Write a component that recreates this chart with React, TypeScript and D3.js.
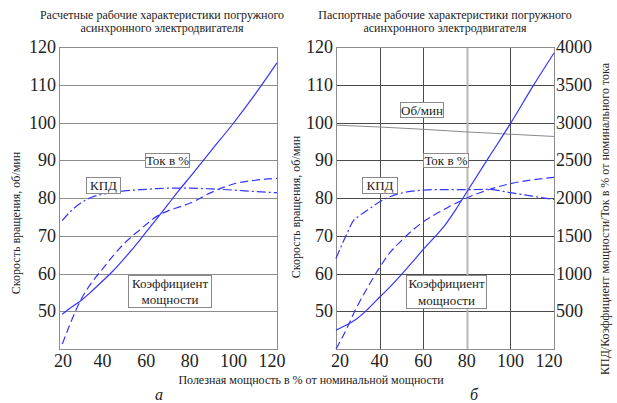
import React from "react";
import * as d3 from "d3";

// --- chart a (calculated) ---
const loadA = [21.5, 25, 30, 35, 40, 45, 50, 55, 60, 65, 70, 75, 80, 90, 100, 110, 120];
const currentA = [49.2, 50.8, 52.8, 55.3, 58, 60.8, 64, 67.4, 71, 74.6, 78.3, 82, 85.5, 92.7, 99.8, 107.5, 115.8];
const powerFactorA = [41.3, 46.5, 53, 57.6, 61.2, 64.8, 68, 70.6, 73, 75.2, 76.6, 77.6, 78.6, 81.5, 83.7, 84.7, 85.2];
const efficiencyA = [74, 76.3, 78.7, 80.2, 81, 81.5, 81.9, 82.1, 82.3, 82.5, 82.6, 82.6, 82.6, 82.4, 82.1, 81.7, 81.4];

// --- chart б (passport) ---
const loadB = [20, 25, 28, 30, 35, 40, 45, 50, 55, 60, 65, 70, 75, 80, 90, 100, 110, 120];
const currentB = [45, 46.4, 47.4, 48.2, 50.8, 53.7, 56.6, 59.7, 63, 66.4, 69.5, 72.8, 77, 81.6, 90.7, 99.7, 109.3, 118.4];
const powerFactorB = [40, 45.5, 49.3, 51.6, 56.8, 61.6, 65.7, 68.7, 71.4, 73.7, 75.5, 77.1, 78.6, 80, 82.2, 83.8, 84.8, 85.5];
const efficiencyB = [64, 70.5, 74, 75, 77, 79, 80.4, 81.3, 81.8, 82.1, 82.2, 82.2, 82.2, 82.2, 82.3, 81.4, 80.5, 79.6];
const speedLoad = [20, 40, 60, 80, 100, 120];
const speedB = [99.3, 98.8, 98.2, 97.5, 96.9, 96.3];

const xTicks = [20, 40, 60, 80, 100, 120];
const yTicks = [50, 60, 70, 80, 90, 100, 110, 120];
const rightTicks = [500, 1000, 1500, 2000, 2500, 3000, 3500, 4000];

const titleA = ["Расчетные рабочие характеристики погружного", "асинхронного электродвигателя"];
const titleB = ["Паспортные рабочие характеристики погружного", "асинхронного электродвигателя"];

const FONT = "'Liberation Serif', 'Times New Roman', serif";
const BLUE = "#3535ff";
const DASH = "8,4";
const DASHDOT = "9,3,2,3";

type Series = { x: number[]; y: number[]; dash?: string; color?: string; width?: number };

function Box({ x, y, w, h, lines }: { x: number; y: number; w: number; h: number; lines: string[] }) {
  const lh = h / lines.length;
  return (
    <g>
      <rect x={x + 0.5} y={y + 0.5} width={w} height={h} fill="#fff" stroke="#8a8a8a" />
      {lines.map((t, i) => (
        <text key={i} x={x + w / 2 + 0.5} y={y + lh * i + lh / 2 + 5} textAnchor="middle" fontSize={13} fill="#222">
          {t}
        </text>
      ))}
    </g>
  );
}

function Panel({
  left,
  right,
  series,
  title,
  titleX,
  fullGrid,
  yTitleX,
  yTitleY,
  children,
}: {
  left: number;
  right: number;
  series: Series[];
  title: string[];
  titleX: number;
  fullGrid: boolean;
  yTitleX: number;
  yTitleY: number;
  children?: React.ReactNode;
}) {
  const top = 47;
  const bottom = 349;
  const x = d3.scaleLinear().domain([20, 120]).range([left, right]);
  const y = d3.scaleLinear().domain([40, 120]).range([bottom, top]);
  const gridColor = fullGrid ? "#4a4a4a" : "#8c8c8c";

  return (
    <g>
      {title.map((t, i) => (
        <text key={i} x={titleX} y={19 + i * 13} textAnchor="middle" fontSize={12} fill="#222">
          {t}
        </text>
      ))}
      {yTicks.slice(0, -1).map((v) => (
        <line key={v} x1={left} x2={right} y1={Math.round(y(v)) + 0.5} y2={Math.round(y(v)) + 0.5} stroke={gridColor} strokeWidth={1} />
      ))}
      {fullGrid &&
        xTicks.slice(1, -1).map((v) => (
          <line
            key={v}
            x1={Math.round(x(v)) + 0.5}
            x2={Math.round(x(v)) + 0.5}
            y1={top}
            y2={bottom}
            stroke={v === 80 ? "#b8b8b8" : gridColor}
            strokeWidth={v === 80 ? 2 : 1}
          />
        ))}
      <rect x={left + 0.5} y={top + 0.5} width={right - left} height={bottom - top} fill="none" stroke="#8c8c8c" />
      {series.map((s, i) => {
        const gen = d3
          .line<number>()
          .x((_, k) => x(s.x[k]))
          .y((v) => y(v))
          .curve(d3.curveMonotoneX);
        return (
          <path
            key={i}
            d={gen(s.y) || ""}
            fill="none"
            stroke={s.color || BLUE}
            strokeWidth={s.width || 1.2}
            strokeDasharray={s.dash}
          />
        );
      })}
      {yTicks.map((v) => (
        <text key={v} x={left - 3} y={y(v) + 6} textAnchor="end" fontSize={18} fill="#222">
          {v}
        </text>
      ))}
      {xTicks.map((v, i) => (
        <text
          key={v}
          x={x(v) + (i === 0 ? 4 : i === xTicks.length - 1 ? -5 : 0)}
          y={367}
          textAnchor="middle"
          fontSize={18}
          fill="#222"
        >
          {v}
        </text>
      ))}
      <text transform={`translate(${yTitleX},${yTitleY}) rotate(-90)`} textAnchor="middle" fontSize={12} fill="#222">
        Скорость вращения, об/мин
      </text>
      {children}
    </g>
  );
}

export default function App() {
  const rightScale = d3.scaleLinear().domain([0, 4000]).range([349, 47]);
  const seriesA: Series[] = [
    { x: loadA, y: currentA },
    { x: loadA, y: powerFactorA, dash: DASH },
    { x: loadA, y: efficiencyA, dash: DASHDOT },
  ];
  const seriesB: Series[] = [
    { x: speedLoad, y: speedB, color: "#8a8a8a", width: 1 },
    { x: loadB, y: currentB },
    { x: loadB, y: powerFactorB, dash: DASH },
    { x: loadB, y: efficiencyB, dash: DASHDOT },
  ];

  return (
    <svg
      width={617}
      height={403}
      style={{ position: "absolute", left: 0, top: 0, background: "#fff", fontFamily: FONT }}
    >
      <Panel left={59} right={277} series={seriesA} title={titleA} titleX={162} fullGrid={false} yTitleX={20} yTitleY={223}>
        <Box x={145} y={153} w={44} h={14} lines={["Ток в %"]} />
        <Box x={86} y={177} w={34} h={16} lines={["КПД"]} />
        <Box x={128} y={275} w={83} h={32} lines={["Коэффициент", "мощности"]} />
      </Panel>
      <Panel left={336} right={554} series={seriesB} title={titleB} titleX={445} fullGrid={true} yTitleX={300} yTitleY={207}>
        <Box x={400} y={102} w={43} h={15} lines={["Об/мин"]} />
        <Box x={423} y={153} w={45} h={14} lines={["Ток в %"]} />
        <Box x={362} y={177} w={35} h={16} lines={["КПД"]} />
        <Box x={406} y={275} w={80} h={33} lines={["Коэффициент", "мощности"]} />
        {rightTicks.map((v) => (
          <text key={v} x={556} y={rightScale(v) + 6} textAnchor="start" fontSize={18} fill="#222">
            {v}
          </text>
        ))}
        <text transform="translate(609,219) rotate(-90)" textAnchor="middle" fontSize={12} fill="#222">
          КПД/Коэффициент мощности/Ток в % от номинального тока
        </text>
      </Panel>
      <text x={311} y={384} textAnchor="middle" fontSize={12} fill="#222">
        Полезная мощность в % от номинальной мощности
      </text>
      <text x={159} y={400} textAnchor="middle" fontSize={16} fontStyle="italic" fill="#222">
        а
      </text>
      <text x={474} y={400} textAnchor="middle" fontSize={16} fontStyle="italic" fill="#222">
        б
      </text>
    </svg>
  );
}
